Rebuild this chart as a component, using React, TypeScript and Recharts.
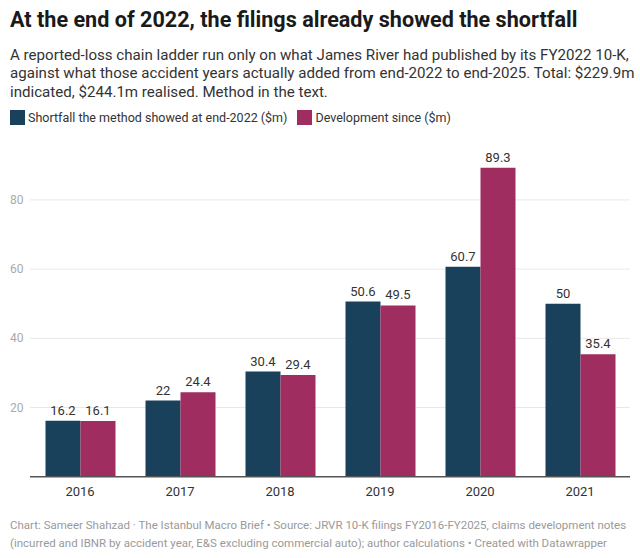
import React from "react";
import { BarChart, Bar, XAxis, YAxis, CartesianGrid, LabelList } from "recharts";

const years = ["2016", "2017", "2018", "2019", "2020", "2021"];
const shortfall = [16.2, 22, 30.4, 50.6, 60.7, 50];
const development = [16.1, 24.4, 29.4, 49.5, 89.3, 35.4];
const yTicks = [20, 40, 60, 80];

const titleText = "At the end of 2022, the filings already showed the shortfall";
const subtitleLines = [
  "A reported-loss chain ladder run only on what James River had published by its FY2022 10-K,",
  "against what those accident years actually added from end-2022 to end-2025. Total: $229.9m",
  "indicated, $244.1m realised. Method in the text.",
];
const legendLabels = ["Shortfall the method showed at end-2022 ($m)", "Development since ($m)"];
const footerLines = [
  "Chart: Sameer Shahzad · The Istanbul Macro Brief • Source: JRVR 10-K filings FY2016-FY2025, claims development notes",
  "(incurred and IBNR by accident year, E&S excluding commercial auto); author calculations • Created with Datawrapper",
];

const DARK = "#19415b";
const PINK = "#a02d5f";
const FONT = "Roboto, 'Noto Sans', sans-serif";

const data = years.map((y, i) => ({ year: y, shortfall: shortfall[i], development: development[i] }));

const YTick = (props: any) => {
  const { y, payload } = props;
  return (
    <text x={10} y={y} dy={4} textAnchor="start" fill="#aaaaaa" fontSize={12} fontFamily={FONT}>
      {payload.value}
    </text>
  );
};

export default function App() {
  return (
    <div style={{ position: "relative", width: 640, height: 558, background: "#fff", fontFamily: FONT, overflow: "hidden" }}>
      <style>{`body{margin:0}`}</style>
      <div style={{ position: "absolute", left: 10, top: 7, fontSize: 21.6, fontWeight: 700, color: "#1a1a1a", whiteSpace: "nowrap" }}>
        {titleText}
      </div>
      <div style={{ position: "absolute", left: 10, top: 45.5, fontSize: 15.1, lineHeight: "18.5px", color: "#333", whiteSpace: "nowrap" }}>
        {subtitleLines.map((l, i) => (
          <div key={i}>{l}</div>
        ))}
      </div>
      <div style={{ position: "absolute", left: 10, top: 110, display: "flex", alignItems: "center", fontSize: 12.5, color: "#333", whiteSpace: "nowrap" }}>
        <span style={{ display: "inline-block", width: 15, height: 15, background: DARK, marginRight: 3 }} />
        <span style={{ marginRight: 10 }}>{legendLabels[0]}</span>
        <span style={{ display: "inline-block", width: 15, height: 15, background: PINK, marginRight: 3 }} />
        <span>{legendLabels[1]}</span>
      </div>
      <div style={{ position: "absolute", left: 0, top: 140 }}>
        <BarChart
          width={640}
          height={360}
          data={data}
          margin={{ top: 25.3, right: 10, bottom: 0, left: 0 }}
          barCategoryGap="15.5%"
          barGap={0}
        >
          <CartesianGrid vertical={false} stroke="#e8e8e8" strokeWidth={1} horizontalValues={yTicks} />
          <YAxis
            domain={[0, 90]}
            ticks={yTicks}
            width={30}
            axisLine={false}
            tickLine={false}
            tick={<YTick />}
          />
          <XAxis
            dataKey="year"
            height={23.3}
            axisLine={{ stroke: "#555", strokeWidth: 1.5 }}
            tickLine={false}
            tick={{ fill: "#333", fontSize: 13, fontFamily: FONT }}
            tickMargin={4}
          />
          <Bar dataKey="shortfall" fill={DARK} isAnimationActive={false}>
            <LabelList dataKey="shortfall" position="top" offset={6} fill="#333" fontSize={13} fontFamily={FONT} />
          </Bar>
          <Bar dataKey="development" fill={PINK} isAnimationActive={false}>
            <LabelList dataKey="development" position="top" offset={6} fill="#333" fontSize={13} fontFamily={FONT} />
          </Bar>
        </BarChart>
      </div>
      <div style={{ position: "absolute", left: 10, top: 516, fontSize: 11.5, lineHeight: "18px", color: "#9a9a9a", whiteSpace: "nowrap" }}>
        {footerLines.map((l, i) => (
          <div key={i}>{l}</div>
        ))}
      </div>
    </div>
  );
}
